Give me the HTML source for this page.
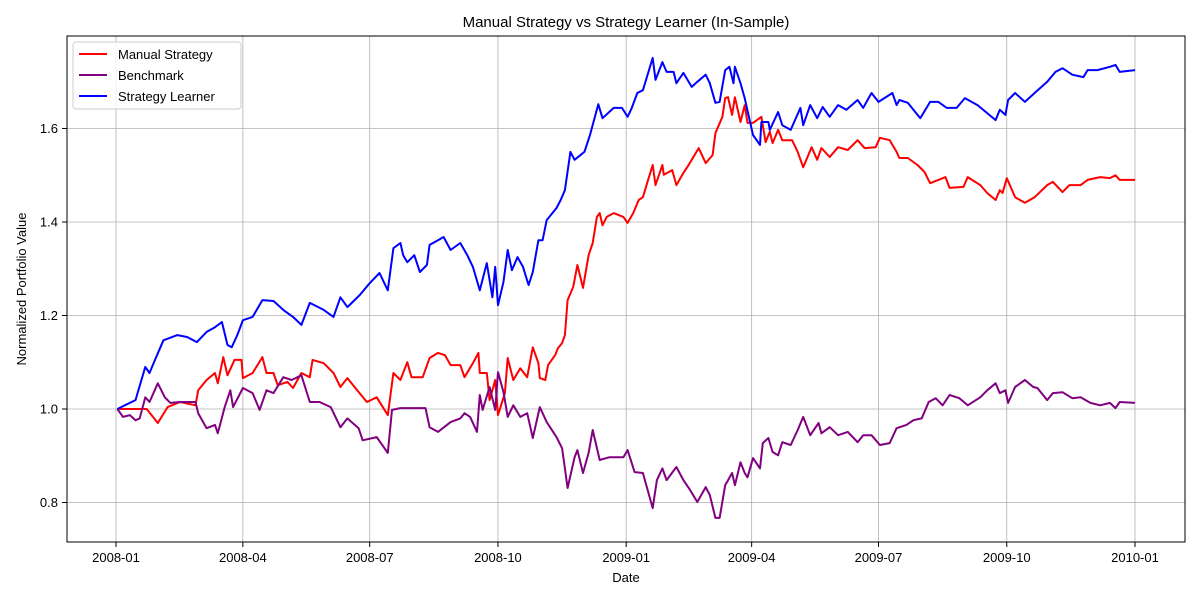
<!DOCTYPE html>
<html><head><meta charset="utf-8"><style>
body{margin:0;background:#fff;}
svg{display:block;font-family:"Liberation Sans","DejaVu Sans",sans-serif;}
</style></head><body>
<svg id="chart" width="1200" height="600" viewBox="0 0 1200 600" xmlns="http://www.w3.org/2000/svg">
<rect x="0" y="0" width="1200" height="600" fill="#fff"/>
<text x="626" y="27" font-size="15" text-anchor="middle" fill="#000">Manual Strategy vs Strategy Learner (In-Sample)</text>
<g id="grid"></g>
<g id="series"></g>
<rect x="67" y="36" width="1118" height="506" fill="none" stroke="#000" stroke-width="1"/>
<g id="ticks"></g>
<text x="626" y="582" font-size="13" text-anchor="middle">Date</text>
<text transform="translate(26,289) rotate(-90)" font-size="13" text-anchor="middle">Normalized Portfolio Value</text>
<g>
<rect x="73" y="42" width="168" height="67" rx="3" fill="#fff" fill-opacity="0.8" stroke="#ccc"/>
<g><line x1="79" y1="54" x2="107" y2="54" stroke="red" stroke-width="2"/><text x="118" y="59" font-size="13">Manual Strategy</text></g>
<g><line x1="79" y1="75" x2="107" y2="75" stroke="purple" stroke-width="2"/><text x="118" y="80" font-size="13">Benchmark</text></g>
<g><line x1="79" y1="96" x2="107" y2="96" stroke="blue" stroke-width="2"/><text x="118" y="101" font-size="13">Strategy Learner</text></g>
</g>
</svg>
<script>
// days since 2008-01-01
const xTickDays=[0,91,182,274,366,456,547,639,731];
const xTickLabels=["2008-01","2008-04","2008-07","2008-10","2009-01","2009-04","2009-07","2009-10","2010-01"];
const yTicks=[0.8,1.0,1.2,1.4,1.6];
const yTickLabels=["0.8","1.0","1.2","1.4","1.6"];

const learnerDays=[1,14,21,24,28,34,44,51,58,65,71,76,80,83,87,91,98,105,113,120,127,133,139,149,156,161,166,175,182,189,195,199,204,206,209,214,218,223,225,231,235,240,247,252,256,261,266,270,272,274,278,281,284,288,292,296,299,303,306,309,316,319,322,326,329,336,340,346,349,357,363,367,370,374,378,385,387,392,395,400,402,407,413,417,423,426,430,433,437,440,443,444,448,451,457,462,463,468,469,475,478,484,491,493,498,503,507,512,518,524,532,536,542,547,557,560,562,568,572,577,584,590,596,603,609,618,625,631,634,638,640,645,652,659,668,674,679,686,694,697,704,713,717,720,731];
const learnerVals=[1.000,1.019,1.090,1.077,1.105,1.147,1.158,1.154,1.143,1.165,1.175,1.186,1.137,1.132,1.158,1.190,1.197,1.233,1.231,1.212,1.197,1.180,1.227,1.212,1.197,1.239,1.218,1.244,1.269,1.291,1.254,1.344,1.355,1.329,1.314,1.329,1.293,1.308,1.351,1.361,1.368,1.340,1.355,1.329,1.304,1.254,1.312,1.239,1.304,1.222,1.272,1.340,1.297,1.325,1.304,1.265,1.293,1.361,1.361,1.404,1.430,1.447,1.468,1.550,1.533,1.550,1.586,1.652,1.622,1.644,1.644,1.625,1.644,1.676,1.682,1.751,1.704,1.742,1.721,1.721,1.697,1.719,1.689,1.700,1.715,1.697,1.655,1.657,1.725,1.732,1.697,1.732,1.697,1.665,1.586,1.565,1.614,1.614,1.597,1.635,1.607,1.597,1.644,1.607,1.650,1.622,1.646,1.625,1.650,1.640,1.661,1.644,1.676,1.657,1.676,1.650,1.661,1.655,1.640,1.622,1.657,1.657,1.644,1.644,1.665,1.650,1.633,1.618,1.640,1.629,1.661,1.676,1.657,1.676,1.700,1.721,1.729,1.715,1.710,1.725,1.725,1.732,1.736,1.721,1.725];

const manualDays=[1,22,30,37,46,57,59,65,71,73,77,80,85,90,91,98,105,108,113,116,123,127,133,139,141,149,156,161,166,173,180,187,195,199,204,209,212,220,225,231,236,240,247,250,256,260,261,266,268,272,274,279,281,285,290,295,299,303,304,308,310,315,317,320,322,324,328,331,335,339,342,345,347,349,352,357,364,367,371,375,378,381,385,387,392,393,399,402,407,410,418,423,428,430,435,437,439,442,444,448,451,453,457,463,466,469,471,475,478,485,489,493,499,503,506,512,518,525,532,537,545,548,555,560,562,568,575,580,584,590,595,598,608,611,620,625,631,634,636,639,645,652,659,668,672,679,684,692,697,706,713,717,720,731];
const manualVals=[1.000,1.000,0.970,1.004,1.015,1.008,1.040,1.062,1.077,1.055,1.111,1.072,1.105,1.105,1.066,1.077,1.111,1.077,1.077,1.051,1.058,1.045,1.077,1.068,1.105,1.098,1.077,1.047,1.066,1.040,1.015,1.025,0.987,1.077,1.062,1.100,1.068,1.068,1.109,1.120,1.115,1.094,1.094,1.068,1.098,1.120,1.077,1.077,1.019,1.062,0.987,1.034,1.109,1.062,1.087,1.068,1.132,1.098,1.066,1.062,1.094,1.115,1.130,1.141,1.158,1.233,1.261,1.308,1.259,1.329,1.355,1.411,1.419,1.393,1.411,1.419,1.411,1.398,1.419,1.447,1.453,1.483,1.522,1.479,1.522,1.501,1.511,1.479,1.505,1.518,1.558,1.526,1.543,1.590,1.625,1.665,1.667,1.629,1.667,1.614,1.650,1.612,1.612,1.625,1.571,1.593,1.569,1.597,1.575,1.575,1.550,1.517,1.560,1.533,1.558,1.539,1.560,1.554,1.575,1.558,1.560,1.580,1.575,1.550,1.537,1.537,1.522,1.507,1.483,1.490,1.496,1.473,1.475,1.496,1.479,1.462,1.447,1.468,1.462,1.494,1.453,1.441,1.453,1.479,1.486,1.464,1.479,1.479,1.490,1.496,1.494,1.500,1.490,1.490];

const benchDays=[1,5,10,14,17,21,24,30,35,39,46,57,59,65,71,73,78,82,84,91,98,103,108,113,120,126,133,139,146,154,161,166,174,177,187,195,198,204,211,217,222,225,231,240,247,250,254,259,261,263,268,272,274,278,281,285,290,295,299,304,309,316,320,324,329,331,335,339,342,347,354,364,367,372,378,385,388,392,395,402,407,412,417,423,426,430,433,437,442,444,448,451,453,457,462,464,468,471,475,478,484,489,493,498,504,506,512,518,525,532,536,542,548,555,560,567,572,578,583,588,593,598,605,611,620,625,631,634,638,640,645,652,658,661,668,672,679,686,692,699,706,713,717,720,731];
const benchVals=[1.000,0.983,0.987,0.976,0.980,1.025,1.015,1.055,1.025,1.013,1.015,1.015,0.991,0.959,0.966,0.948,1.004,1.040,1.004,1.045,1.034,0.998,1.040,1.034,1.068,1.062,1.072,1.015,1.015,1.004,0.961,0.980,0.959,0.933,0.940,0.906,0.998,1.002,1.002,1.002,1.002,0.961,0.951,0.972,0.980,0.991,0.983,0.951,1.030,0.998,1.047,0.998,1.079,1.036,0.983,1.008,0.983,0.991,0.938,1.004,0.972,0.940,0.916,0.831,0.897,0.912,0.863,0.906,0.955,0.891,0.897,0.897,0.912,0.865,0.863,0.788,0.848,0.873,0.848,0.876,0.848,0.826,0.801,0.833,0.816,0.767,0.767,0.837,0.863,0.837,0.886,0.863,0.854,0.895,0.873,0.927,0.938,0.908,0.901,0.929,0.923,0.955,0.983,0.944,0.970,0.948,0.961,0.944,0.951,0.929,0.944,0.944,0.923,0.927,0.959,0.966,0.976,0.980,1.015,1.023,1.008,1.030,1.023,1.008,1.025,1.040,1.055,1.034,1.040,1.013,1.047,1.062,1.047,1.045,1.019,1.034,1.036,1.023,1.025,1.013,1.008,1.013,1.002,1.015,1.013];

const NS="http://www.w3.org/2000/svg";
function xScale(d){return 116+d*(1019/731);}
function yScale(v){return 409-(v-1)*467.5;}
const grid=document.getElementById('grid'),ticks=document.getElementById('ticks'),series=document.getElementById('series');
function mk(tag,attrs,parent){const e=document.createElementNS(NS,tag);for(const k in attrs)e.setAttribute(k,attrs[k]);parent.appendChild(e);return e;}
xTickDays.forEach((d,i)=>{const x=xScale(d);
 const g=mk('line',{x1:x,x2:x,y1:36,y2:542,stroke:'#b0b0b0','stroke-width':0.8},grid);
 
 
 const t=mk('line',{x1:x,x2:x,y1:542,y2:547,stroke:'#000'},ticks);
 
 
 const l=mk('text',{x:x,y:562,'font-size':13,'text-anchor':'middle'},ticks);l.textContent=xTickLabels[i];
 
 
});
yTicks.forEach((v,i)=>{const y=yScale(v);
 const g=mk('line',{x1:67,x2:1185,y1:y,y2:y,stroke:'#b0b0b0','stroke-width':0.8},grid);
 
 
 const t=mk('line',{x1:62,x2:67,y1:y,y2:y,stroke:'#000'},ticks);
 
 
 const l=mk('text',{x:58,y:y+4.5,'font-size':13,'text-anchor':'end'},ticks);l.textContent=yTickLabels[i];
 
 
});
function line(days,vals,color,name){
 const d=days.map((dd,i)=>(i?'L':'M')+xScale(dd).toFixed(1)+','+yScale(vals[i]).toFixed(1)).join('');
 const p=mk('path',{d:d,fill:'none',stroke:color,'stroke-width':2,'stroke-linejoin':'round'},series);
 
 
}
line(manualDays,manualVals,'red','manual-strategy-line');
line(benchDays,benchVals,'purple','benchmark-line');
line(learnerDays,learnerVals,'blue','strategy-learner-line');
</script>
</body></html>
